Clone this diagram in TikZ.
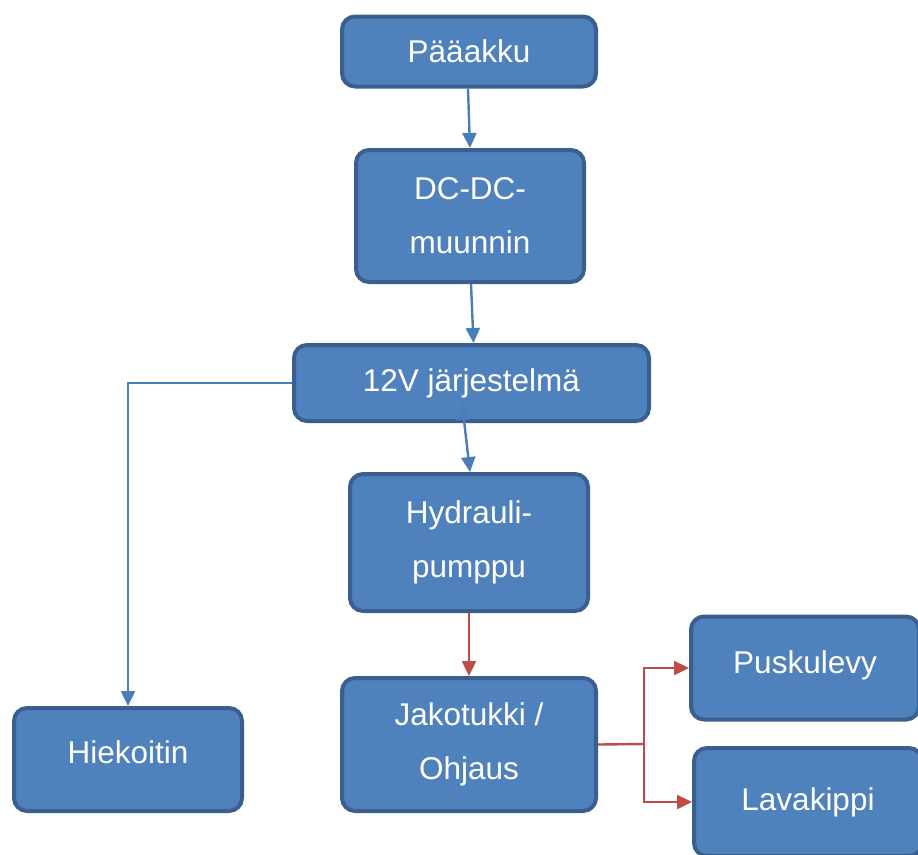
\documentclass[tikz,border=0pt]{standalone}
\usepackage{fontspec}
\setmainfont{Liberation Sans}
\usetikzlibrary{arrows.meta}
\definecolor{boxfill}{HTML}{4F81BD}
\definecolor{boxline}{HTML}{3A5F8E}
\definecolor{bluearrow}{HTML}{4A7EBB}
\definecolor{redarrow}{HTML}{BE4B48}
\tikzset{
  box/.style={draw=boxline, fill=boxfill, line width=4pt, rounded corners=13pt,
    text=white, align=center, font=\fontsize{31.5}{54}\selectfont, inner sep=0pt},
  barrow/.style={draw=bluearrow, line width=2.4pt, -{Triangle[length=15pt,width=14pt]}},
  rarrow/.style={draw=redarrow, line width=2.4pt, -{Triangle[length=15pt,width=14pt]}},
}
\begin{document}
\begin{tikzpicture}[x=1pt,y=-1pt]
\useasboundingbox (0,0) rectangle (918,854);
\node[box, minimum width=254pt, minimum height=70pt] (paa) at (469,51.5) {Pääakku};
\node[box, minimum width=228pt, minimum height=132pt] (dc) at (470,216) {DC-DC-\\muunnin};
\node[box, minimum width=355pt, minimum height=76pt] (v12) at (471.5,383) {\raisebox{4pt}{12V järjestelmä}};
\node[box, minimum width=238pt, minimum height=137pt] (hyd) at (469,542.5) {Hydrauli-\\pumppu};
\node[box, minimum width=254pt, minimum height=133pt] (jak) at (469,744.5) {Jakotukki /\\Ohjaus};
\node[box, minimum width=228pt, minimum height=103pt] (hie) at (128,759.5) {\raisebox{14pt}{Hiekoitin}};
\node[box, minimum width=228pt, minimum height=103pt] (pus) at (805,668) {\raisebox{12pt}{Puskulevy}};
\node[box, minimum width=228pt, minimum height=108pt] (lav) at (808,802) {\raisebox{6pt}{Lavakippi}};
\coordinate (split) at (644,744);
\coordinate (up12) at (462,403);
\draw[barrow] ([xshift=-1pt]paa.south) -- ([xshift=0pt]dc.north);
\draw[barrow] ([xshift=1pt]dc.south) -- ([xshift=2pt]v12.north |- v12.north);
\draw[barrow] (v12.west) -| (hie.north);
\draw[rarrow] (hyd.south) -- (jak.north);
\draw[redarrow, line width=2.4pt] (jak.east) -- (split);
\draw[rarrow] (split) |- (pus.west);
\draw[rarrow] (split) |- (lav.west);
\draw[draw=bluearrow, fill=bluearrow, line width=2.4pt, {Triangle[length=17pt,width=16pt]}-{Triangle[length=15pt,width=14pt]}] (up12) -- ([xshift=1pt]hyd.north);
\end{tikzpicture}
\end{document}
